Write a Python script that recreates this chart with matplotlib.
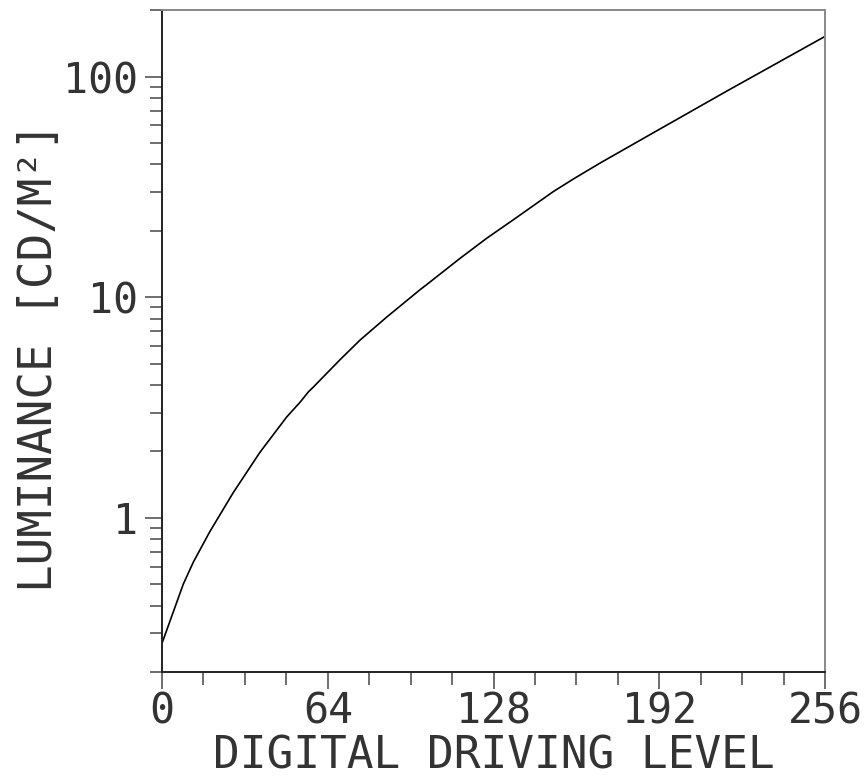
import matplotlib
matplotlib.use("Agg")
import matplotlib.pyplot as plt
import numpy as np
from matplotlib.ticker import FixedLocator, LogLocator, NullFormatter

# valores
ddl = [0, 8.2, 12.1, 18.5, 27.5, 37.8, 48.1, 53.3, 56.5, 58.4, 68.7, 76.4, 86.8,
       99.6, 102.2, 115.1, 125.4, 135.6, 151.1, 158.8, 169.1, 188.4, 218.0, 256]
lum = [0.27, 0.50, 0.63, 0.867, 1.30, 1.98, 2.86, 3.34, 3.72, 3.91, 5.2, 6.38, 8.13,
       10.8, 11.4, 15.0, 18.5, 22.4, 30.1, 34.3, 40.5, 54.5, 85.8, 152.0]

xticks = [0, 64, 128, 192, 256]
xtick_labels = ['0', '64', '128', '192', '256']
yticks = [1, 10, 100]
ytick_labels = ['1', '10', '100']

fuente = 'DejaVu Sans Mono'
gris_txt = '#333333'

fig = plt.figure(figsize=(8.65, 7.76), dpi=100)
ax = fig.add_axes([0.1873, 0.134, 0.7665, 0.853])

ax.plot(ddl, lum, color='black', lw=1.2)

ax.set_yscale('log')
ax.set_xlim(0, 256)
ax.set_ylim(0.2, 200)

# ticks x
ax.xaxis.set_major_locator(FixedLocator(xticks))
ax.set_xticklabels(xtick_labels, family=fuente, fontsize=30, color=gris_txt)
ax.xaxis.set_minor_locator(FixedLocator(np.arange(0, 257, 16)))
# ticks y
ax.yaxis.set_major_locator(FixedLocator(yticks))
ax.set_yticklabels(ytick_labels, family=fuente, fontsize=30, color=gris_txt)
ax.yaxis.set_minor_locator(LogLocator(base=10, subs=np.arange(2, 10)))
ax.yaxis.set_minor_formatter(NullFormatter())

ax.tick_params(which='major', direction='out', length=12, width=1.2, color='#555555')
ax.tick_params(which='minor', direction='out', length=9, width=1.2, color='#555555')
ax.tick_params(axis='x', which='major', pad=1)
ax.tick_params(axis='y', which='major', pad=5)

for lado in ['left', 'bottom']:
    ax.spines[lado].set_color('#222222')
    ax.spines[lado].set_linewidth(1.4)
for lado in ['top', 'right']:
    ax.spines[lado].set_color('#888888')
    ax.spines[lado].set_linewidth(1.4)

# Titulos de ejes
ax.set_xlabel('DIGITAL DRIVING LEVEL', family=fuente, fontsize=32, color=gris_txt)
ax.xaxis.set_label_coords(0.5, -0.094)
ax.xaxis.label.set_va('top')
ax.set_ylabel('LUMINANCE [CD/M²]', family=fuente, fontsize=33, color=gris_txt)
ax.yaxis.set_label_coords(-0.185, 0.476)
ax.yaxis.label.set_va('center')

fig.savefig('out.png', dpi=100)
